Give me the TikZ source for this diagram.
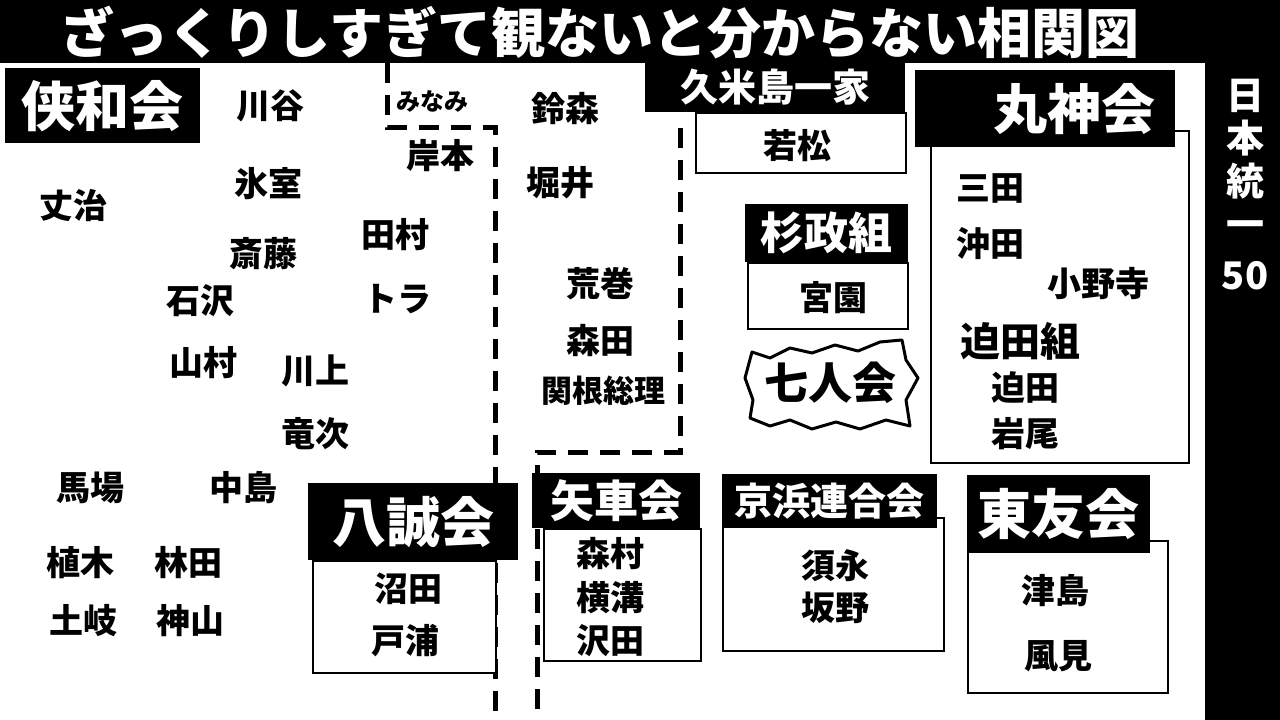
\documentclass[tikz,border=0pt]{standalone}
\usepackage{fontspec}
\setmainfont{Noto Sans CJK JP}
\usepackage{tikz}
\usetikzlibrary{positioning}

\begin{document}
\begin{tikzpicture}[
  x=1pt, y=-1pt,
  title/.style={text=white, inner sep=0pt, font=\fontsize{54}{54}\selectfont\bfseries},
  header/.style={fill=black, text=white, inner sep=0pt, anchor=north west, font=\fontsize{#1}{#1}\selectfont\bfseries},
  member/.style={inner sep=0pt, font=\fontsize{34}{34}\selectfont\bfseries},
  groupbox/.style={draw, line width=2pt, fill=white, inner sep=0pt, anchor=north west},
  border/.style={line width=5pt, dash pattern=on 20pt off 12pt}
]
\useasboundingbox (0,0) rectangle (1280,720);

% Background
\fill[black] (0,0) rectangle (1280,720);
\fill[white] (0,63) rectangle (1205,720);
\node[title] (heading) at (600,33) {ざっくりしすぎて観ないと分からない相関図};
\node[inner sep=0pt, text=white, align=center, font=\fontsize{38}{43}\selectfont\bfseries] (series) at (1245,185) {日\\本\\統\\一\\[8pt]50};

% Borders
\draw[border] (387,63) |- (495,127) -- (495,720);
\draw[border] (680,128) -- (680,452) -- (537,452) -- (537,720);

% Boxes
\node[groupbox, minimum width=210, minimum height=60] (kumebox) at (695,112) {};
\node[groupbox, minimum width=160, minimum height=66] (sugibox) at (747,262) {};
\node[groupbox, minimum width=258, minimum height=332] (marubox) at (930,130) {};
\node[groupbox, minimum width=183, minimum height=112] (hasebox) at (312,560) {};
\node[groupbox, minimum width=157, minimum height=132] (yagubox) at (543,528) {};
\node[groupbox, minimum width=221, minimum height=133] (keihbox) at (722,517) {};
\node[groupbox, minimum width=200, minimum height=152] (toyubox) at (967,540) {};

% Headers
\node[header=54, minimum width=195, minimum height=75] (kyowa) at (5,68) {侠和会};
\node[header=38, minimum width=260, minimum height=50] (kume) at (645,62) {久米島一家};
\node[header=54, minimum height=77, inner xsep=20pt, text width=220pt, align=right] (maru) at (915,70) {丸神会};
\node[header=44, minimum width=163, minimum height=58] (sugi) at (745,204) {杉政組};
\node[header=54, minimum width=210, minimum height=77] (hasei) at (308,483) {八誠会};
\node[header=44, minimum width=168, minimum height=55] (yagu) at (532,473) {矢車会};
\node[header=38, minimum width=215, minimum height=54] (keih) at (722,474) {京浜連合会};
\node[header=54, minimum width=183, minimum height=78] (toyu) at (967,475) {東友会};

% Seven
\draw[line width=3pt, line join=round, fill=white] (752,352) -- (770,358) -- (790,348) -- (812,353) -- (835,345) -- (858,351) -- (880,342) -- (902,340) -- (906,360) -- (918,378) -- (906,400) -- (910,426) -- (886,420) -- (860,429) -- (836,422) -- (812,429) -- (790,420) -- (770,426) -- (750,418) -- (753,400) -- (745,378) -- cycle;
\node[inner sep=0pt, font=\fontsize{44}{44}\selectfont\bfseries] (seven) at (830,383) {七人会};

% Members
\node[member] (kawatani) at (270,106) {川谷};
\node[member] (himuro) at (268,184) {氷室};
\node[member] (joji) at (73,206) {丈治};
\node[member] (saito) at (263,254) {斎藤};
\node[member] (tamura) at (395,235) {田村};
\node[member] (ishizawa) at (200,301) {石沢};
\node[member] (tora) at (397,299) {トラ};
\node[member] (yamamura) at (203,363) {山村};
\node[member] (kawakami) at (315,371) {川上};
\node[member] (ryuji) at (315,434) {竜次};
\node[member] (baba) at (90,488) {馬場};
\node[member] (nakajima) at (243,488) {中島};
\node[member] (ueki) at (80,563) {植木};
\node[member] (hayashida) at (188,563) {林田};
\node[member] (toki) at (83,621) {土岐};
\node[member] (kamiyama) at (190,621) {神山};
\node[member] (kishimoto) at (440,156) {岸本};
\node[member, font=\fontsize{24}{24}\selectfont\bfseries] (minami) at (432,101) {みなみ};
\node[member] (suzumori) at (565,109) {鈴森};
\node[member] (horii) at (560,183) {堀井};
\node[member] (aramaki) at (600,284) {荒巻};
\node[member] (morita) at (600,341) {森田};
\node[member, font=\fontsize{31}{31}\selectfont\bfseries] (sekine) at (603,391) {関根総理};
\node[member] (wakamatsu) at (797,146) {若松};
\node[member] (miyazono) at (833,298) {宮園};
\node[member] (mita) at (990,188) {三田};
\node[member] (okita) at (990,244) {沖田};
\node[member] (onodera) at (1098,284) {小野寺};
\node[member, font=\fontsize{40}{40}\selectfont\bfseries] (sakodagumi) at (1020,341) {迫田組};
\node[member] (sakoda) at (1025,388) {迫田};
\node[member] (iwao) at (1025,434) {岩尾};
\node[member] (numata) at (408,589) {沼田};
\node[member] (toura) at (405,641) {戸浦};
\node[member] (morimura) at (610,554) {森村};
\node[member] (yokomizo) at (610,598) {横溝};
\node[member] (sawada) at (610,641) {沢田};
\node[member] (sunaga) at (835,566) {須永};
\node[member] (sakano) at (835,608) {坂野};
\node[member] (tsushima) at (1055,591) {津島};
\node[member] (kazami) at (1058,656) {風見};

\end{tikzpicture}
\end{document}
